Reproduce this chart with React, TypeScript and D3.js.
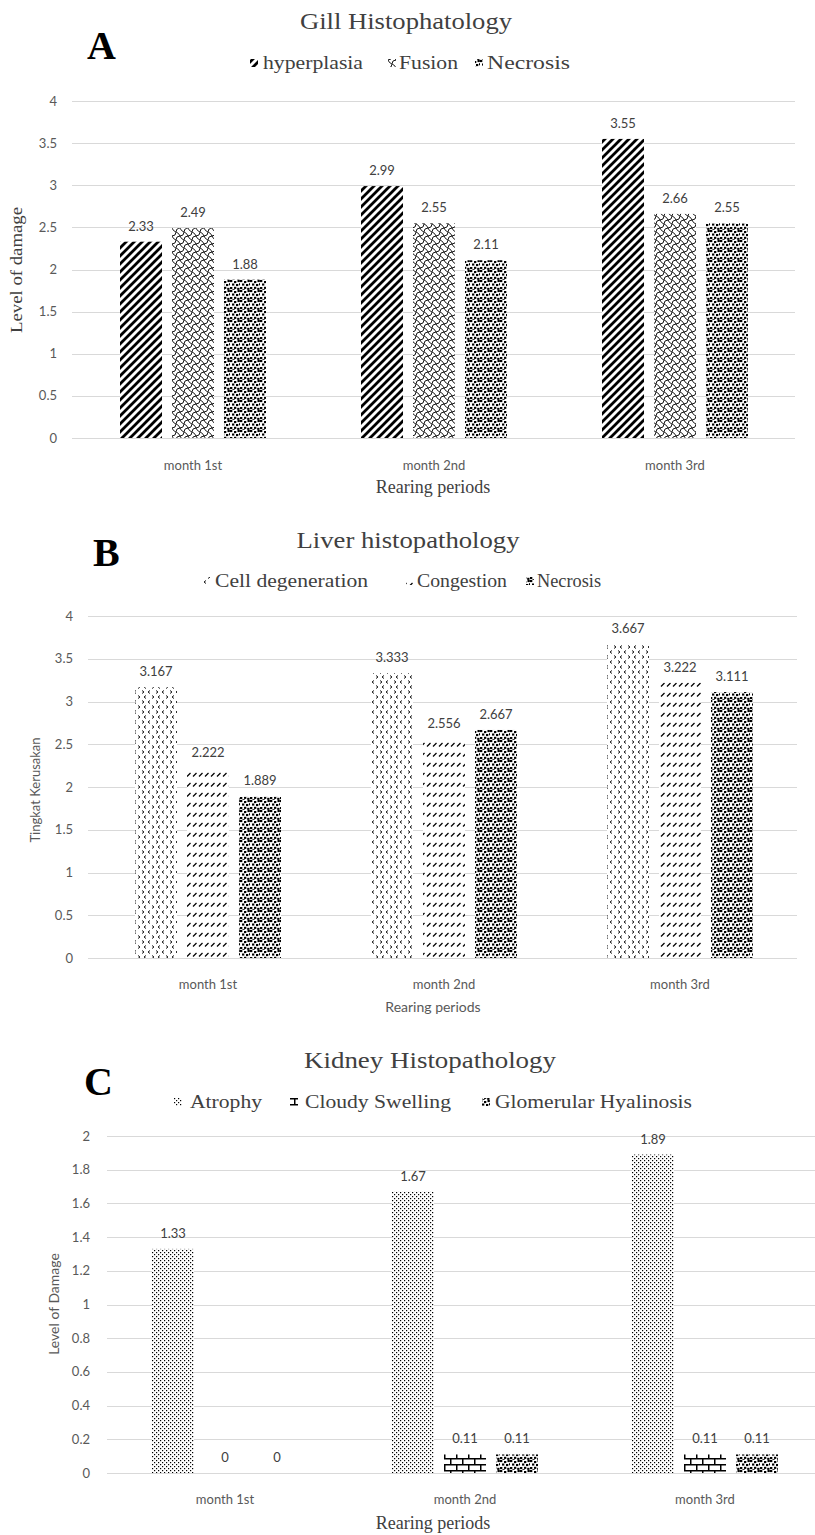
import { useEffect, useRef } from "react";
import * as d3 from "d3";

// ---- data ----
const months = ["month 1st", "month 2nd", "month 3rd"];

const gillSeries = ["hyperplasia", "Fusion", "Necrosis"];
const gillHyperplasia = [2.33, 2.99, 3.55];
const gillFusion = [2.49, 2.55, 2.66];
const gillNecrosis = [1.88, 2.11, 2.55];
const gillTicks = [0, 0.5, 1, 1.5, 2, 2.5, 3, 3.5, 4];

const liverSeries = ["Cell degeneration", "Congestion", "Necrosis"];
const liverCellDegeneration = [3.167, 3.333, 3.667];
const liverCongestion = [2.222, 2.556, 3.222];
const liverNecrosis = [1.889, 2.667, 3.111];
const liverTicks = [0, 0.5, 1, 1.5, 2, 2.5, 3, 3.5, 4];

const kidneySeries = ["Atrophy", "Cloudy Swelling", "Glomerular Hyalinosis"];
const kidneyAtrophy = [1.33, 1.67, 1.89];
const kidneyCloudySwelling = [0, 0.11, 0.11];
const kidneyGlomerular = [0, 0.11, 0.11];
const kidneyTicks = [0, 0.2, 0.4, 0.6, 0.8, 1, 1.2, 1.4, 1.6, 1.8, 2];

const SERIF = '"Liberation Serif", "Times New Roman", serif';
const SANS = 'Lato, "Open Sans", sans-serif';

interface ILegendPos {
  marker: number;
  text: number;
  width: number;
}

interface IPanel {
  letter: string;
  letterX: number;
  letterY: number;
  title: string;
  titleX: number;
  titleY: number;
  titleW: number;
  legendY: number;
  legend: ILegendPos[];
  series: string[];
  values: number[][];
  patterns: string[];
  ticks: number[];
  yMax: number;
  xRange: [number, number];
  yRange: [number, number];
  gridX: [number, number];
  tickX: number;
  yLabel: string;
  yLabelX: number;
  yLabelY: number;
  yLabelSerif: boolean;
  yLabelSize: number;
  yLabelW?: number;
  catY: number;
  axisTitleY: number;
  axisTitleSerif: boolean;
  axisTitleSize: number;
}

function addPatterns(defs: d3.Selection<SVGDefsElement, unknown, null, undefined>) {
  const pat = (id: string, w: number, h: number) => {
    const p = defs
      .append("pattern")
      .attr("id", id)
      .attr("patternUnits", "userSpaceOnUse")
      .attr("width", w)
      .attr("height", h);
    p.append("rect").attr("width", w).attr("height", h).attr("fill", "#fff");
    return p;
  };

  // wide upward diagonal
  pat("pDiag", 8, 8)
    .append("path")
    .attr("d", "M-2,2 L2,-2 M0,8 L8,0 M6,10 L10,6")
    .attr("stroke", "#000")
    .attr("stroke-width", 2.8);

  // shingle: interlocking S-curves
  pat("pShingle", 8, 8)
    .append("path")
    .attr("d", "M0,8 Q0,4 4,4 Q8,4 8,0 M0,0 Q3,1 4,4 Q5,7 8,8")
    .attr("fill", "none")
    .attr("stroke", "#000")
    .attr("stroke-width", 0.9);

  // confetti (scattered squares)
  const conf = pat("pConfetti", 10, 10);
  const spots = [
    [0, 0], [4, 1], [7.5, 0], [2, 3.5], [6, 4], [9, 3.2],
    [0, 7], [4, 6.8], [7.2, 7.8], [2.4, 9.2],
  ];
  spots.forEach(([sx, sy]) => {
    conf.append("rect").attr("x", sx).attr("y", sy).attr("width", 2.3).attr("height", 2.1).attr("fill", "#000");
  });

  // little chevrons
  pat("pChevron", 14, 10)
    .append("path")
    .attr("d", "M2,0.5 L4,2 L2,3.5 M10,0.5 L8,2 L10,3.5 M6,5.5 L4,7 L6,8.5 M12,5.5 L14,7 L12,8.5")
    .attr("fill", "none")
    .attr("stroke", "#000")
    .attr("stroke-width", 0.9);

  // dashed upward diagonal
  pat("pDash", 6, 10)
    .append("path")
    .attr("d", "M1,6.5 L4.5,3")
    .attr("stroke", "#000")
    .attr("stroke-width", 1.2);

  // fine dots
  const dots = pat("pDots", 4, 4);
  dots.append("rect").attr("x", 0).attr("y", 0).attr("width", 1.2).attr("height", 1.2).attr("fill", "#000");
  dots.append("rect").attr("x", 2).attr("y", 2).attr("width", 1.2).attr("height", 1.2).attr("fill", "#000");

  // horizontal brick
  pat("pBrick", 12, 12)
    .append("path")
    .attr("d", "M0,0.75 H12 M0,6.75 H12 M0.75,0 V6.75 M6.75,6.75 V12")
    .attr("stroke", "#000")
    .attr("stroke-width", 1.5);
}

function drawPanel(svg: d3.Selection<SVGSVGElement, unknown, null, undefined>, p: IPanel) {
  const g = svg.append("g");
  const x0 = d3.scaleBand<string>().domain(months).range(p.xRange);
  const x1 = d3
    .scaleBand<string>()
    .domain(p.series)
    .range([-73, 73])
    .paddingInner(0.192);
  const y = d3.scaleLinear().domain([0, p.yMax]).range(p.yRange);

  // gridlines
  g.selectAll(".grid")
    .data(p.ticks)
    .join("line")
    .attr("x1", p.gridX[0])
    .attr("x2", p.gridX[1])
    .attr("y1", (d) => Math.round(y(d)) + 0.5)
    .attr("y2", (d) => Math.round(y(d)) + 0.5)
    .attr("stroke", "#d9d9d9")
    .attr("stroke-width", 1);

  // tick labels
  g.selectAll(".tick")
    .data(p.ticks)
    .join("text")
    .attr("x", p.tickX)
    .attr("y", (d) => y(d))
    .attr("dy", "0.35em")
    .attr("text-anchor", "end")
    .attr("font-family", SANS)
    .attr("font-size", 13)
    .attr("fill", "#595959")
    .text((d) => String(d));

  // bars + value labels
  p.series.forEach((s, si) => {
    const vals = p.values[si];
    const sg = g.append("g");
    sg.selectAll("rect")
      .data(vals)
      .join("rect")
      .attr("x", (_, i) => (x0(months[i]) as number) + x0.bandwidth() / 2 + (x1(s) as number))
      .attr("width", x1.bandwidth())
      .attr("y", (d) => y(d))
      .attr("height", (d) => y(0) - y(d))
      .attr("fill", `url(#${p.patterns[si]})`);
    sg.selectAll("text")
      .data(vals)
      .join("text")
      .attr("x", (_, i) => (x0(months[i]) as number) + x0.bandwidth() / 2 + (x1(s) as number) + x1.bandwidth() / 2)
      .attr("y", (d) => y(d) - 11)
      .attr("text-anchor", "middle")
      .attr("font-family", SANS)
      .attr("font-size", 13)
      .attr("fill", "#404040")
      .text((d) => String(d));
  });

  // category labels
  g.selectAll(".cat")
    .data(months)
    .join("text")
    .attr("x", (d) => (x0(d) as number) + x0.bandwidth() / 2)
    .attr("y", p.catY)
    .attr("text-anchor", "middle")
    .attr("font-family", SANS)
    .attr("font-size", 13)
    .attr("fill", "#595959")
    .text((d) => d);

  // axis titles
  const mid = (p.gridX[0] + p.gridX[1]) / 2;
  g.append("text")
    .attr("x", Math.min(mid, 433))
    .attr("y", p.axisTitleY)
    .attr("text-anchor", "middle")
    .attr("font-family", p.axisTitleSerif ? SERIF : SANS)
    .attr("font-size", p.axisTitleSize)
    .attr("fill", p.axisTitleSerif ? "#404040" : "#595959")
    .text("Rearing periods");

  const yl = g
    .append("text")
    .attr("transform", `translate(${p.yLabelX},${p.yLabelY}) rotate(-90)`)
    .attr("text-anchor", "middle")
    .attr("font-family", p.yLabelSerif ? SERIF : SANS)
    .attr("font-size", p.yLabelSize)
    .attr("fill", p.yLabelSerif ? "#404040" : "#595959")
    .text(p.yLabel);
  if (p.yLabelW) yl.attr("textLength", p.yLabelW).attr("lengthAdjust", "spacingAndGlyphs");

  // title
  g.append("text")
    .attr("x", p.titleX)
    .attr("y", p.titleY)
    .attr("text-anchor", "middle")
    .attr("font-family", SERIF)
    .attr("font-size", 23)
    .attr("fill", "#404040")
    .attr("textLength", p.titleW)
    .attr("lengthAdjust", "spacingAndGlyphs")
    .text(p.title);

  // legend
  p.series.forEach((s, si) => {
    const pos = p.legend[si];
    g.append("rect")
      .attr("x", pos.marker)
      .attr("y", p.legendY - 10)
      .attr("width", 8)
      .attr("height", 8)
      .attr("fill", `url(#${p.patterns[si]})`);
    g.append("text")
      .attr("x", pos.text)
      .attr("y", p.legendY)
      .attr("font-family", SERIF)
      .attr("font-size", 18)
      .attr("fill", "#404040")
      .attr("textLength", pos.width)
      .attr("lengthAdjust", "spacingAndGlyphs")
      .text(s);
  });

  // panel letter
  g.append("text")
    .attr("x", p.letterX)
    .attr("y", p.letterY)
    .attr("font-family", SERIF)
    .attr("font-weight", "bold")
    .attr("font-size", 40)
    .attr("fill", "#000")
    .text(p.letter);
}

function App() {
  const ref = useRef<SVGSVGElement>(null);

  useEffect(() => {
    const panels: IPanel[] = [
      {
        letter: "A", letterX: 87, letterY: 59,
        title: "Gill Histophatology", titleX: 406, titleY: 29, titleW: 212,
        legendY: 69,
        legend: [
          { marker: 250, text: 263, width: 100 },
          { marker: 388, text: 399, width: 59 },
          { marker: 475, text: 487, width: 83 },
        ],
        series: gillSeries,
        values: [gillHyperplasia, gillFusion, gillNecrosis],
        patterns: ["pDiag", "pShingle", "pConfetti"],
        ticks: gillTicks, yMax: 4,
        xRange: [72.5, 795.5], yRange: [438, 101],
        gridX: [72, 795], tickX: 57,
        yLabel: "Level of damage", yLabelX: 22, yLabelY: 270, yLabelSerif: true, yLabelSize: 17, yLabelW: 126,
        catY: 470, axisTitleY: 493, axisTitleSerif: true, axisTitleSize: 18,
      },
      {
        letter: "B", letterX: 93, letterY: 566,
        title: "Liver histopathology", titleX: 408, titleY: 548, titleW: 223,
        legendY: 587,
        legend: [
          { marker: 203, text: 215, width: 153 },
          { marker: 406, text: 417, width: 90 },
          { marker: 526, text: 537, width: 64 },
        ],
        series: liverSeries,
        values: [liverCellDegeneration, liverCongestion, liverNecrosis],
        patterns: ["pChevron", "pDash", "pConfetti"],
        ticks: liverTicks, yMax: 4,
        xRange: [90, 798], yRange: [958, 616],
        gridX: [88, 797], tickX: 73,
        yLabel: "Tingkat Kerusakan", yLabelX: 40, yLabelY: 790, yLabelSerif: false, yLabelSize: 13,
        catY: 989, axisTitleY: 1012, axisTitleSerif: false, axisTitleSize: 14,
      },
      {
        letter: "C", letterX: 84, letterY: 1095,
        title: "Kidney Histopathology", titleX: 430, titleY: 1068, titleW: 252,
        legendY: 1108,
        legend: [
          { marker: 174, text: 190, width: 72 },
          { marker: 290, text: 305, width: 146 },
          { marker: 482, text: 495, width: 197 },
        ],
        series: kidneySeries,
        values: [kidneyAtrophy, kidneyCloudySwelling, kidneyGlomerular],
        patterns: ["pDots", "pBrick", "pConfetti"],
        ticks: kidneyTicks, yMax: 2,
        xRange: [105, 825], yRange: [1473, 1136],
        gridX: [107, 815], tickX: 90,
        yLabel: "Level of Damage", yLabelX: 59, yLabelY: 1304, yLabelSerif: false, yLabelSize: 14,
        catY: 1504, axisTitleY: 1529, axisTitleSerif: true, axisTitleSize: 18,
      },
    ];

    const svg = d3.select(ref.current as SVGSVGElement);
    svg.selectAll("*").remove();
    addPatterns(svg.append("defs"));
    panels.forEach((p) => drawPanel(svg, p));
  }, []);

  return (
    <svg
      ref={ref}
      width={815}
      height={1535}
      style={{ position: "absolute", left: 0, top: 0, background: "#fff", display: "block" }}
    />
  );
}

export default App;
